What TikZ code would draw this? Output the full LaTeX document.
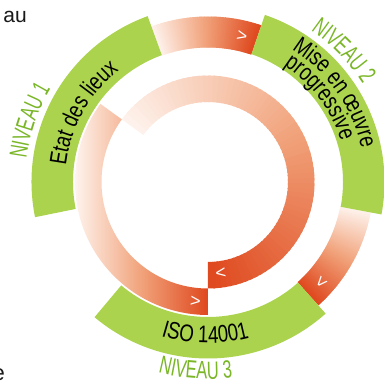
\documentclass[tikz,border=0pt]{standalone}
\usepackage{fontspec}
\setmainfont{Liberation Sans}
\newfontfamily\bandfont{Liberation Sans}[FakeStretch=0.78]
\newfontfamily\nivfont{Liberation Sans}[FakeStretch=0.66]
\usetikzlibrary{decorations.text}
\definecolor{bandgreen}{RGB}{171,211,77}
\definecolor{nivgreen}{RGB}{122,182,40}
\definecolor{gstart}{RGB}{254,243,237}
\definecolor{gmid}{RGB}{241,162,122}
\definecolor{gend}{RGB}{223,72,30}
\newcommand\gradarc[4]{%
  \pgfmathsetmacro\gS{(#2-#1)/80}%
  \foreach \k in {0,...,79}{%
    \pgfmathsetmacro\gA{#1+\gS*max(0,\k-0.5)}%
    \pgfmathsetmacro\gB{#1+\gS*(\k+1)}%
    \pgfmathsetmacro\gF{(\k+0.5)/80}%
    \pgfmathtruncatemacro\gP{min(100,200*\gF)}%
    \pgfmathtruncatemacro\gQ{max(0,200*\gF-100)}%
    \ifdim\gF pt<0.5pt\relax\colorlet{gc}{gmid!\gP!gstart}\else\colorlet{gc}{gend!\gQ!gmid}\fi
    \fill[gc] (\gA:#3) arc[start angle=\gA,end angle=\gB,radius=#3] -- (\gB:#4) arc[start angle=\gB,end angle=\gA,radius=#4] -- cycle;
  }}
\tikzset{
  chev/.style={text=white,font=\fontsize{18pt}{18pt}\selectfont,inner sep=0pt},
  greenseg/.style={fill=bandgreen},
  curvetext/.style={decorate,decoration={text along path,text align=center,text={#1}}}
}
\begin{document}
\begin{tikzpicture}
\useasboundingbox (-208pt,-201pt) rectangle (176pt,182pt);
% outer connecting arcs
\gradarc{110}{71.2}{134.5pt}{165.5pt}
\gradarc{349.4}{311.8}{134.5pt}{165.5pt}
% spiral: outer band (linear left to right), inner band (along the arc)
\path[left color=gstart,right color=gend,middle color=gmid]
  (144:106.5pt) arc[start angle=144,end angle=270,radius=106.5pt] -- (270:133pt)
  arc[start angle=270,end angle=144,radius=133pt] -- cycle;
\gradarc{144}{-90}{80pt}{106.5pt}
% green level bands
\fill[greenseg] (110:135pt) arc[start angle=110,end angle=191.5,radius=135pt] -- (191.5:176.5pt) arc[start angle=191.5,end angle=110,radius=176.5pt] -- cycle;
\fill[greenseg] (71.2:135pt) arc[start angle=71.2,end angle=-10.6,radius=135pt] -- (-10.6:176.5pt) arc[start angle=-10.6,end angle=71.2,radius=176.5pt] -- cycle;
\fill[greenseg] (230:135pt) arc[start angle=230,end angle=311.8,radius=135pt] -- (311.8:176.5pt) arc[start angle=311.8,end angle=230,radius=176.5pt] -- cycle;
% texts in bands
\path[curvetext={|\bandfont\fontsize{24pt}{24pt}\selectfont|Etat des lieux}] (191:143pt) arc[start angle=191,end angle=111,radius=143pt];
\path[curvetext={|\bandfont\fontsize{24pt}{24pt}\selectfont|Mise en œuvre}] (85:157pt) arc[start angle=85,end angle=-15,radius=157pt];
\path[curvetext={|\bandfont\fontsize{24pt}{24pt}\selectfont|progressive}] (87:139pt) arc[start angle=87,end angle=-13,radius=139pt];
\path[curvetext={|\bandfont\fontsize{24pt}{24pt}\selectfont|ISO 14001}] (-141:161pt) arc[start angle=-141,end angle=-41,radius=161pt];
% level labels
\path[curvetext={|\nivfont\fontsize{25pt}{25pt}\selectfont\color{nivgreen}|NIVEAU 1}] (211:183pt) arc[start angle=211,end angle=111,radius=183pt];
\path[curvetext={|\nivfont\fontsize{25pt}{25pt}\selectfont\color{nivgreen}|NIVEAU 2}] (94:183pt) arc[start angle=94,end angle=-6,radius=183pt];
\path[curvetext={|\nivfont\fontsize{25pt}{25pt}\selectfont\color{nivgreen}|NIVEAU 3}] (-143.7:197pt) arc[start angle=-143.7,end angle=-43.7,radius=197pt];
% chevrons
\node[chev,rotate=-13.2] (chevtop) at (76.8:149pt) {>};
\node[chev,rotate=-131.6] (chevright) at (-41.6:151pt) {>};
\node[chev,rotate=8] (chevinner) at (-82:92pt) {<};
\node[chev,rotate=-6] (chevouter) at (-96:120pt) {>};
% fragments of surrounding text
\node[anchor=base east,inner sep=0pt,font=\fontsize{21pt}{21pt}\selectfont,text=black!90] (au) at (-181pt,159pt) {au};
\node[anchor=base east,inner sep=0pt,font=\fontsize{22pt}{22pt}\selectfont,text=black!90] (frag) at (-203pt,-199pt) {e};
\end{tikzpicture}
\end{document}
